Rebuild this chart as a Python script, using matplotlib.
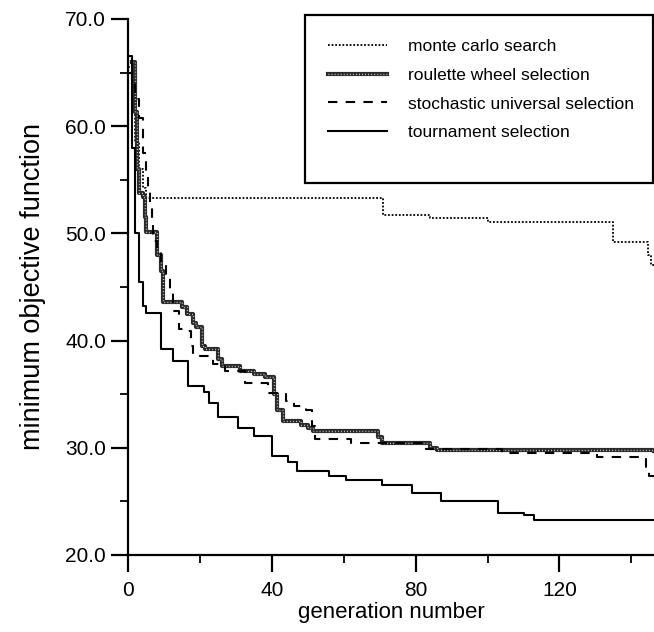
import matplotlib
matplotlib.use("Agg")
import matplotlib.pyplot as plt
from matplotlib.patches import Rectangle
from matplotlib.ticker import FormatStrFormatter, MultipleLocator
from matplotlib.legend_handler import HandlerTuple

plt.rcParams['font.family'] = ['Liberation Sans', 'DejaVu Sans']

# monte carlo search
mc_gen = [0, 1, 2, 3, 4, 5, 71, 84, 100, 135, 144.5, 145.5, 146.3]
mc_val = [65.5, 62.0, 58.5, 56.0, 54.2, 53.3, 51.7, 51.4, 51.1, 49.2, 48.0, 47.0, 47.0]

# roulette wheel selection
rw_gen = [1, 2, 2.5, 3, 4, 4.6, 5, 8, 9, 9.7, 15, 16.5, 18, 19, 20.5, 21.5, 25, 26,
          31, 35, 38, 40.5, 41.5, 43, 48, 50, 51.5, 69.5, 70.5, 84, 86, 146.3]
rw_val = [66.0, 61.3, 56.0, 53.8, 53.4, 51.5, 50.1, 48.0, 46.5, 43.6, 43.1, 42.5, 41.6,
          41.3, 39.5, 39.2, 38.3, 37.6, 37.2, 36.9, 36.6, 35.0, 33.5, 32.5, 32.1, 31.8,
          31.6, 31.0, 30.4, 30.0, 29.8, 29.7]

# stochastic universal selection
su_gen = [0, 1, 2, 3, 4, 5, 5.5, 6, 6.5, 7, 8, 9, 10.5, 11.5, 12.5, 14, 16.5, 17.5, 18,
          23.5, 27, 32.5, 38.8, 44, 46, 49.5, 51.2, 52, 62, 83, 104, 130.5, 144, 145, 146.3]
su_val = [65.0, 64.0, 62.5, 60.8, 57.5, 55.5, 54.3, 52.8, 51.2, 49.3, 48.3, 47.3, 46.2,
          44.6, 42.8, 41.1, 40.9, 39.5, 38.6, 37.8, 37.2, 36.0, 35.1, 34.4, 33.9, 33.5,
          32.0, 30.8, 30.4, 29.9, 29.5, 29.1, 28.2, 27.4, 27.4]

# tournament selection
tr_gen = [0, 1, 2, 3, 4, 5, 9, 12.5, 16.7, 21, 22.5, 25, 30.5, 35, 40, 44.5, 47, 56,
          60.5, 70.5, 79, 87, 103, 110, 113, 146.3]
tr_val = [66.5, 58.0, 50.0, 45.5, 43.2, 42.6, 39.2, 38.1, 35.8, 35.2, 34.2, 32.9, 31.8,
          31.1, 29.2, 28.7, 27.8, 27.4, 27.0, 26.5, 25.8, 25.0, 23.9, 23.7, 23.3, 23.3]

labels = ["monte carlo search", "roulette wheel selection",
          "stochastic universal selection", "tournament selection"]

W, H = 654, 632
fig = plt.figure(figsize=(W / 100, H / 100), dpi=100)
ax = fig.add_axes([0.196, 0.122, 0.804, 0.848])

l_mc, = ax.plot(mc_gen, mc_val, drawstyle='steps-post', color='black',
                lw=1.3, linestyle=(0, (1, 1)))
# roulette: thick dark line with sparse light dots -> grainy look
l_rw1, = ax.plot(rw_gen, rw_val, drawstyle='steps-post', color='#2a2a2a', lw=3.0)
l_rw2, = ax.plot(rw_gen, rw_val, drawstyle='steps-post', color='#d8d8d8', lw=1.0,
                 linestyle=(0, (0.6, 1.6)))
l_su, = ax.plot(su_gen, su_val, drawstyle='steps-post', color='black',
                lw=1.5, linestyle=(0, (4.5, 4)))
l_tr, = ax.plot(tr_gen, tr_val, drawstyle='steps-post', color='black', lw=1.5)

ax.set_xlim(0, 146.3)
ax.set_ylim(20, 70)
ax.xaxis.set_major_locator(MultipleLocator(40))
ax.xaxis.set_minor_locator(MultipleLocator(20))
ax.yaxis.set_major_locator(MultipleLocator(10))
ax.yaxis.set_minor_locator(MultipleLocator(5))
ax.yaxis.set_major_formatter(FormatStrFormatter('%.1f'))

for s in ['top', 'right']:
    ax.spines[s].set_visible(False)
for s in ['left', 'bottom']:
    ax.spines[s].set_linewidth(1.6)

ax.tick_params(which='major', direction='out', length=12, width=1.6, labelsize=15)
ax.tick_params(axis='x', which='major', pad=7)
ax.tick_params(axis='y', which='major', pad=4)
ax.tick_params(which='minor', direction='out', length=6, width=1.3)

ax.set_xlabel("generation number", fontsize=16, labelpad=1)
ax.set_ylabel("minimum objective function", fontsize=19.5, labelpad=14)

# legend box (drawn by hand so the padding matches the scan)
box = Rectangle((305 / W, 1 - 183 / H), 348 / W, 168 / H, transform=fig.transFigure,
                facecolor='white', edgecolor='black', lw=1.6, clip_on=False, zorder=4)
ax.add_patch(box)

leg = ax.legend([l_mc, (l_rw1, l_rw2), l_su, l_tr], labels,
                handler_map={tuple: HandlerTuple(ndivide=1, pad=0)},
                loc='upper left', bbox_to_anchor=(328 / W, 1 - 39 / H),
                bbox_transform=fig.transFigure, borderaxespad=0, borderpad=0,
                fontsize=12.5, handlelength=3.4, handletextpad=1.2,
                labelspacing=0.78, frameon=False)
leg.set_zorder(5)

fig.savefig("out.png", dpi=100)
